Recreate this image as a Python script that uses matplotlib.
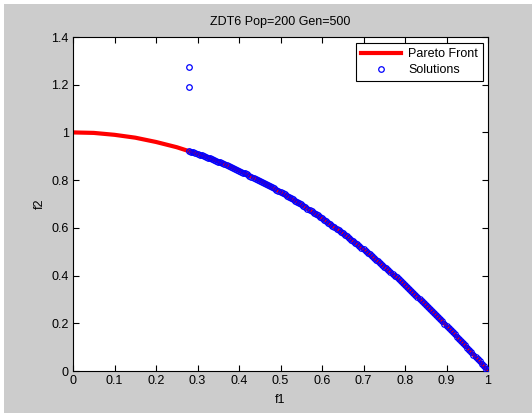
import matplotlib
matplotlib.use('Agg')
import matplotlib.pyplot as plt
from matplotlib.patches import Rectangle

plt.rcParams['font.family'] = ['Liberation Sans', 'DejaVu Sans']
plt.rcParams['font.size'] = 9

# Pareto front
front_f1 = [0.0, 0.05, 0.1, 0.15, 0.2, 0.25, 0.3, 0.35, 0.4, 0.45, 0.5,
            0.55, 0.6, 0.65, 0.7, 0.75, 0.8, 0.85, 0.9, 0.95, 1.0]
front_f2 = [1.0, 0.998, 0.99, 0.978, 0.96, 0.938, 0.91, 0.878, 0.84, 0.798, 0.75,
            0.698, 0.64, 0.578, 0.51, 0.438, 0.36, 0.278, 0.19, 0.098, 0.0]

# solutions found by the algorithm (two outliers first)
sol_f1 = [0.28, 0.28,
          0.280, 0.285, 0.290, 0.295, 0.300, 0.305, 0.310, 0.315, 0.320, 0.325,
          0.330, 0.335, 0.340, 0.345, 0.350, 0.355, 0.360, 0.365, 0.370, 0.375,
          0.380, 0.385, 0.390, 0.395, 0.400, 0.405, 0.410, 0.415, 0.420, 0.425,
          0.430, 0.435, 0.440, 0.445, 0.450, 0.455, 0.460, 0.465, 0.470, 0.475,
          0.480, 0.485, 0.490, 0.495, 0.500, 0.505, 0.510, 0.515, 0.520, 0.525,
          0.530, 0.535, 0.540, 0.545, 0.550, 0.555, 0.560, 0.565, 0.570, 0.575,
          0.580, 0.585, 0.590, 0.595, 0.600, 0.605, 0.610, 0.615, 0.620, 0.625,
          0.630, 0.635, 0.640, 0.645, 0.650, 0.655, 0.660, 0.665, 0.670, 0.675,
          0.680, 0.685, 0.690, 0.695,
          0.700, 0.705, 0.710, 0.715, 0.720, 0.725, 0.730, 0.735, 0.740, 0.745,
          0.750, 0.755, 0.760, 0.765, 0.770, 0.775, 0.780, 0.785, 0.790, 0.795,
          0.800, 0.805, 0.810, 0.815, 0.820, 0.825, 0.830, 0.835, 0.840, 0.845,
          0.850, 0.855, 0.860, 0.865, 0.870, 0.875, 0.880, 0.885, 0.890, 0.895,
          0.900, 0.905, 0.910, 0.915, 0.920, 0.925, 0.930, 0.935, 0.940, 0.945,
          0.950, 0.955, 0.960, 0.965, 0.970, 0.975, 0.980, 0.985, 0.990, 0.995,
          1.000]
sol_f2 = [1.275, 1.19,
          0.922, 0.919, 0.916, 0.913, 0.910, 0.907, 0.904, 0.901, 0.898, 0.894,
          0.891, 0.888, 0.884, 0.881, 0.878, 0.874, 0.870, 0.867, 0.863, 0.859,
          0.856, 0.852, 0.848, 0.844, 0.840, 0.836, 0.832, 0.828, 0.824, 0.819,
          0.815, 0.811, 0.806, 0.802, 0.798, 0.793, 0.788, 0.784, 0.779, 0.774,
          0.770, 0.765, 0.760, 0.755, 0.750, 0.745, 0.740, 0.735, 0.730, 0.724,
          0.719, 0.714, 0.708, 0.703, 0.698, 0.692, 0.686, 0.681, 0.675, 0.669,
          0.664, 0.658, 0.652, 0.646, 0.640, 0.634, 0.628, 0.622, 0.616, 0.609,
          0.603, 0.597, 0.590, 0.584, 0.578, 0.571, 0.564, 0.558, 0.551, 0.544,
          0.538, 0.531, 0.524, 0.517,
          0.510, 0.503, 0.496, 0.489, 0.482, 0.474, 0.467, 0.460, 0.452, 0.445,
          0.438, 0.430, 0.422, 0.415, 0.407, 0.399, 0.392, 0.384, 0.376, 0.368,
          0.360, 0.352, 0.344, 0.336, 0.328, 0.319, 0.311, 0.303, 0.294, 0.286,
          0.278, 0.269, 0.260, 0.252, 0.243, 0.234, 0.226, 0.217, 0.208, 0.199,
          0.190, 0.181, 0.172, 0.163, 0.154, 0.144, 0.135, 0.126, 0.116, 0.107,
          0.098, 0.088, 0.078, 0.069, 0.059, 0.049, 0.040, 0.030, 0.020, 0.010,
          0.000]

xticks = [0, 0.1, 0.2, 0.3, 0.4, 0.5, 0.6, 0.7, 0.8, 0.9, 1]
xticklabels = ['0', '0.1', '0.2', '0.3', '0.4', '0.5', '0.6', '0.7', '0.8', '0.9', '1']
yticks = [0, 0.2, 0.4, 0.6, 0.8, 1, 1.2, 1.4]
yticklabels = ['0', '0.2', '0.4', '0.6', '0.8', '1', '1.2', '1.4']

fig = plt.figure(figsize=(5.32, 4.13), dpi=100, facecolor='white')
# grey matlab figure background with a thin white border at left and top
fig.add_artist(Rectangle((4 / 532, 0), 1, 1 - 4 / 413, transform=fig.transFigure,
                         facecolor='#cccccc', edgecolor='none', zorder=-10))

ax = fig.add_axes([73 / 532, 42 / 413, 415 / 532, 334 / 413])
ax.plot(front_f1, front_f2, color='#ff0000', linewidth=3, label='Pareto Front', zorder=2)
ax.plot(sol_f1, sol_f2, linestyle='none', marker='o', markersize=4,
        markerfacecolor='none', markeredgecolor='#0000ff', markeredgewidth=0.9,
        label='Solutions', zorder=3)

ax.set_xlim(0, 1)
ax.set_ylim(0, 1.4)
ax.set_xticks(xticks)
ax.set_xticklabels(xticklabels)
ax.set_yticks(yticks)
ax.set_yticklabels(yticklabels)
ax.tick_params(direction='in', length=4, width=0.8, top=True, right=True, pad=3, colors='black')
for s in ax.spines.values():
    s.set_linewidth(0.8)

ax.set_title('ZDT6 Pop=200 Gen=500', fontsize=9, pad=9)
ax.set_xlabel('f1', labelpad=5)
ax.set_ylabel('f2', labelpad=4)

leg = ax.legend(loc='upper right', bbox_to_anchor=(0.988, 0.982), borderaxespad=0,
                fancybox=False, edgecolor='black', framealpha=1, handlelength=3.2,
                borderpad=0.4, labelspacing=0.35, handletextpad=0.6)
leg.get_frame().set_linewidth(0.8)

fig.savefig('out.png', dpi=100, facecolor=fig.get_facecolor())
